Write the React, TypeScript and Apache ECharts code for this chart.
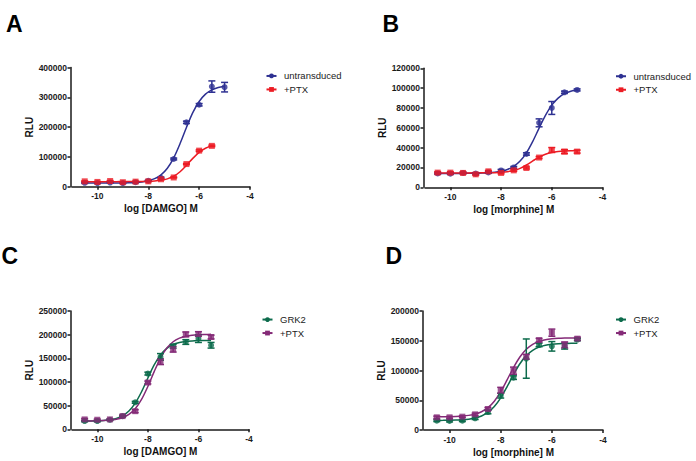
import React, { useEffect, useRef } from "react";
import * as echarts from "echarts";

// ---------- data ----------
const xPoints = [-10.5, -10, -9.5, -9, -8.5, -8, -7.5, -7, -6.5, -6, -5.5, -5];
const xPointsShort = [-10.5, -10, -9.5, -9, -8.5, -8, -7.5, -7, -6.5, -6, -5.5];
const xCurve = [-10.5, -10.25, -10, -9.75, -9.5, -9.25, -9, -8.75, -8.5, -8.25, -8, -7.75, -7.5, -7.25, -7, -6.75, -6.5, -6.25, -6, -5.75, -5.5, -5.25, -5];
const xCurveShort = [-10.5, -10.25, -10, -9.75, -9.5, -9.25, -9, -8.75, -8.5, -8.25, -8, -7.75, -7.5, -7.25, -7, -6.75, -6.5, -6.25, -6, -5.75, -5.5];
const xTickValues = [-10, -8, -6, -4];

// Panel A: DAMGO
const aUntransduced = [13000, 12000, 14000, 12000, 15000, 20000, 30000, 93000, 216000, 275000, 336000, 334000];
const aUntransducedSem = [2000, 1500, 2000, 1500, 2000, 2000, 2000, 3000, 4000, 4000, 19000, 16000];
const aUntransducedCurve = [12000, 12000, 12010, 12040, 12150, 12300, 12570, 13100, 14150, 16100, 19900, 27000, 39900, 62100, 97000, 144700, 198800, 248400, 286000, 310600, 325000, 333000, 337300];
const aPtx = [18000, 16000, 19000, 15000, 17000, 18000, 25000, 31000, 76000, 121000, 137000];
const aPtxSem = [1500, 1500, 1500, 1500, 1500, 1500, 1500, 1500, 2000, 2500, 2500];
const aPtxCurve = [17000, 17000, 17000, 17000, 17010, 17030, 17060, 17120, 17240, 17500, 18060, 19200, 21600, 26300, 35200, 50300, 71500, 95100, 115300, 129000, 136900];

// Panel B: morphine
const bUntransduced = [14000, 13800, 14500, 13800, 15000, 17000, 20000, 33600, 65000, 80000, 95800, 98200];
const bUntransducedSem = [800, 800, 800, 800, 800, 1000, 1000, 1200, 4000, 6500, 1200, 1000];
const bUntransducedCurve = [14000, 14000, 14010, 14020, 14040, 14090, 14170, 14330, 14610, 15150, 16130, 17930, 21110, 26470, 34800, 46340, 59700, 72600, 82900, 89970, 94400, 96910, 98300];
const bPtx = [14800, 14800, 14500, 13100, 16100, 14500, 17100, 19500, 30000, 37600, 36000, 36000];
const bPtxSem = [900, 900, 900, 900, 900, 900, 900, 1000, 1000, 2500, 2000, 1500];
const bPtxCurve = [14500, 14500, 14500, 14510, 14520, 14540, 14580, 14600, 14640, 14790, 15100, 15740, 16960, 19140, 22490, 26590, 30500, 33360, 35120, 36070, 36550, 36770, 36870];

// Panel C: DAMGO, GRK2
const cGrk2 = [17400, 17400, 20000, 27900, 57000, 117700, 153000, 175500, 184500, 191500, 177600];
const cGrk2Sem = [1500, 1500, 1500, 1500, 2000, 3000, 7000, 4000, 5000, 8000, 6000];
const cGrk2Curve = [17200, 17390, 17780, 18540, 20050, 23000, 28560, 38600, 55250, 79400, 108400, 136000, 157300, 171100, 179100, 183400, 185700, 186800, 187400, 187700, 187850];
const cPtx = [20900, 20200, 20900, 27900, 38300, 98900, 142800, 169200, 200600, 201300, 195000];
const cPtxSem = [2000, 1500, 1500, 2000, 3000, 3000, 6000, 6000, 5000, 5000, 4000];
const cPtxCurve = [17620, 17740, 17980, 18460, 19400, 21250, 24840, 31600, 43600, 63200, 90500, 121850, 150500, 171640, 185000, 192600, 196700, 198800, 199900, 200400, 200700];

// Panel D: morphine, GRK2
const dGrk2 = [15700, 15100, 15700, 19600, 30200, 57700, 88000, 120000, 142900, 140600, 141000, 152000];
const dGrk2Sem = [1500, 1500, 1500, 2000, 3000, 4000, 3000, 33000, 3000, 8000, 5000, 2000];
const dGrk2Curve = [16100, 16180, 16340, 16640, 17190, 18220, 20120, 23550, 29500, 39330, 53900, 72800, 93200, 111400, 125000, 133900, 139300, 142400, 144000, 144960, 145400, 145700, 145850];
const dPtx = [21300, 21300, 22400, 26300, 35300, 66700, 99700, 123000, 151000, 163600, 143000, 153500];
const dPtxSem = [2000, 1500, 1500, 2000, 2500, 5000, 6000, 4000, 3000, 6000, 5000, 2500];
const dPtxCurve = [22110, 22210, 22390, 22740, 23380, 24580, 26760, 30700, 37500, 48470, 64400, 84300, 105000, 122760, 135700, 144000, 148900, 151700, 153200, 154050, 154500, 154750, 154870];

const yMax = [400000, 120000, 250000, 200000];
const yInterval = [100000, 20000, 50000, 50000];
const panelLetters = ["A", "B", "C", "D"];
const xTitles = ["log [DAMGO] M", "log [morphine] M", "log [DAMGO] M", "log [morphine] M"];

// ---------- style ----------
const FONT = 'Arial, "Liberation Sans", Helvetica, sans-serif';
const BLUE = "#2E3192";
const RED = "#EC1C24";
const GREEN = "#0D6B4C";
const PURPLE = "#842A77";
const AXIS = "#1a1a1a";

const grids = [
  { left: 72, top: 67.5, width: 178, height: 119.2 },
  { left: 425, top: 68.3, width: 177.5, height: 119 },
  { left: 72, top: 311, width: 177, height: 118.3 },
  { left: 424, top: 311, width: 179, height: 119 },
];
const legendPos = [
  { left: 265.5, top: 70.2 },
  { left: 615, top: 70.5 },
  { left: 261.5, top: 313.8 },
  { left: 615, top: 313.8 },
];
const letterPos = [
  { left: 6, top: 12 },
  { left: 382.5, top: 12 },
  { left: 1.5, top: 244 },
  { left: 385.5, top: 244 },
];

const zip = (xs: number[], ys: number[]) => xs.map((x, i) => [x, ys[i]]);
const zip3 = (xs: number[], ys: number[], es: number[]) => xs.map((x, i) => [x, ys[i], es[i]]);

function errorSeries(idx: number, color: string, data: number[][]) {
  return {
    type: "custom",
    xAxisIndex: idx,
    yAxisIndex: idx,
    z: 3,
    silent: true,
    encode: { x: 0, y: 1 },
    data,
    renderItem: (params: any, api: any) => {
      const x = api.value(0);
      const m = api.value(1);
      const s = api.value(2);
      const top = api.coord([x, m + s]);
      const bot = api.coord([x, m - s]);
      const cap = 3.5;
      const st = { stroke: color, lineWidth: 1.5 };
      return {
        type: "group",
        children: [
          { type: "line", shape: { x1: top[0], y1: top[1], x2: bot[0], y2: bot[1] }, style: st },
          { type: "line", shape: { x1: top[0] - cap, y1: top[1], x2: top[0] + cap, y2: top[1] }, style: st },
          { type: "line", shape: { x1: bot[0] - cap, y1: bot[1], x2: bot[0] + cap, y2: bot[1] }, style: st },
        ],
      };
    },
  };
}

function groupSeries(
  idx: number,
  name: string,
  color: string,
  symbol: string,
  px: number[],
  py: number[],
  pe: number[],
  cx: number[],
  cy: number[]
) {
  return [
    {
      type: "line",
      name,
      xAxisIndex: idx,
      yAxisIndex: idx,
      data: zip(cx, cy),
      smooth: 0.3,
      symbol,
      showSymbol: false,
      z: 2,
      lineStyle: { color, width: 1.5 },
      itemStyle: { color },
    },
    errorSeries(idx, color, zip3(px, py, pe)),
    {
      type: "scatter",
      name: name + "-pts",
      xAxisIndex: idx,
      yAxisIndex: idx,
      data: zip(px, py),
      symbol,
      symbolSize: 6,
      z: 4,
      itemStyle: { color },
    },
  ];
}

export default function App() {
  const ref = useRef<HTMLDivElement>(null);
  useEffect(() => {
    if (!ref.current) return;
    const chart = echarts.init(ref.current, undefined, { renderer: "svg" });

    const series: any[] = [
      ...groupSeries(0, "A|untransduced", BLUE, "circle", xPoints, aUntransduced, aUntransducedSem, xCurve, aUntransducedCurve),
      ...groupSeries(0, "A|+PTX", RED, "rect", xPointsShort, aPtx, aPtxSem, xCurveShort, aPtxCurve),
      ...groupSeries(1, "B|untransduced", BLUE, "circle", xPoints, bUntransduced, bUntransducedSem, xCurve, bUntransducedCurve),
      ...groupSeries(1, "B|+PTX", RED, "rect", xPoints, bPtx, bPtxSem, xCurve, bPtxCurve),
      ...groupSeries(2, "C|GRK2", GREEN, "circle", xPointsShort, cGrk2, cGrk2Sem, xCurveShort, cGrk2Curve),
      ...groupSeries(2, "C|+PTX", PURPLE, "rect", xPointsShort, cPtx, cPtxSem, xCurveShort, cPtxCurve),
      ...groupSeries(3, "D|GRK2", GREEN, "circle", xPoints, dGrk2, dGrk2Sem, xCurve, dGrk2Curve),
      ...groupSeries(3, "D|+PTX", PURPLE, "rect", xPoints, dPtx, dPtxSem, xCurve, dPtxCurve),
    ];

    const legendNames = [
      ["A|untransduced", "A|+PTX"],
      ["B|untransduced", "B|+PTX"],
      ["C|GRK2", "C|+PTX"],
      ["D|GRK2", "D|+PTX"],
    ];

    const option: any = {
      animation: false,
      backgroundColor: "#ffffff",
      title: panelLetters.map((t, i) => ({
        text: t,
        left: letterPos[i].left,
        top: letterPos[i].top,
        padding: 0,
        textStyle: { fontFamily: FONT, fontSize: 23, fontWeight: "bold", color: "#000" },
      })),
      legend: legendNames.map((names, i) => ({
        data: names,
        orient: "vertical",
        left: legendPos[i].left,
        top: legendPos[i].top,
        padding: 0,
        itemWidth: 10,
        itemHeight: 6,
        itemGap: 2,
        selectedMode: false,
        formatter: (n: string) => n.split("|")[1],
        textStyle: { fontFamily: FONT, fontSize: 9.5, color: "#222", lineHeight: 11.5, padding: [0, 0, 0, 2.5] },
      })),
      grid: grids.map((g) => ({ ...g, containLabel: false })),
      xAxis: grids.map((_, i) => ({
        type: "value",
        gridIndex: i,
        min: -11,
        max: -4,
        name: xTitles[i],
        nameLocation: "middle",
        nameGap: 17,
        nameTextStyle: { fontFamily: FONT, fontSize: 10, fontWeight: "bold", color: "#111" },
        axisLine: { show: true, onZero: false, lineStyle: { color: AXIS, width: 1.5 } },
        axisTick: { show: true, length: 3, customValues: xTickValues, lineStyle: { color: AXIS, width: 1.5 } },
        axisLabel: { customValues: xTickValues, margin: 5, fontFamily: FONT, fontSize: 8.5, fontWeight: "bold", color: "#1a1a1a" },
        splitLine: { show: false },
      })),
      yAxis: grids.map((_, i) => ({
        type: "value",
        gridIndex: i,
        min: 0,
        max: yMax[i],
        interval: yInterval[i],
        offset: 1.5,
        name: "RLU",
        nameLocation: "middle",
        nameGap: 36,
        nameTextStyle: { fontFamily: FONT, fontSize: 10, fontWeight: "bold", color: "#111" },
        axisLine: { show: true, onZero: false, lineStyle: { color: AXIS, width: 1.5 } },
        axisTick: { show: true, length: 3, lineStyle: { color: AXIS, width: 1.5 } },
        axisLabel: {
          margin: 3.5,
          fontFamily: FONT,
          fontSize: 8.5,
          fontWeight: "bold",
          color: "#1a1a1a",
          formatter: (v: number) => String(v),
        },
        splitLine: { show: false },
      })),
      series,
    };

    chart.setOption(option);
    return () => chart.dispose();
  }, []);

  return <div ref={ref} style={{ width: 696, height: 461, position: "absolute", left: 0, top: 0 }} />;
}
